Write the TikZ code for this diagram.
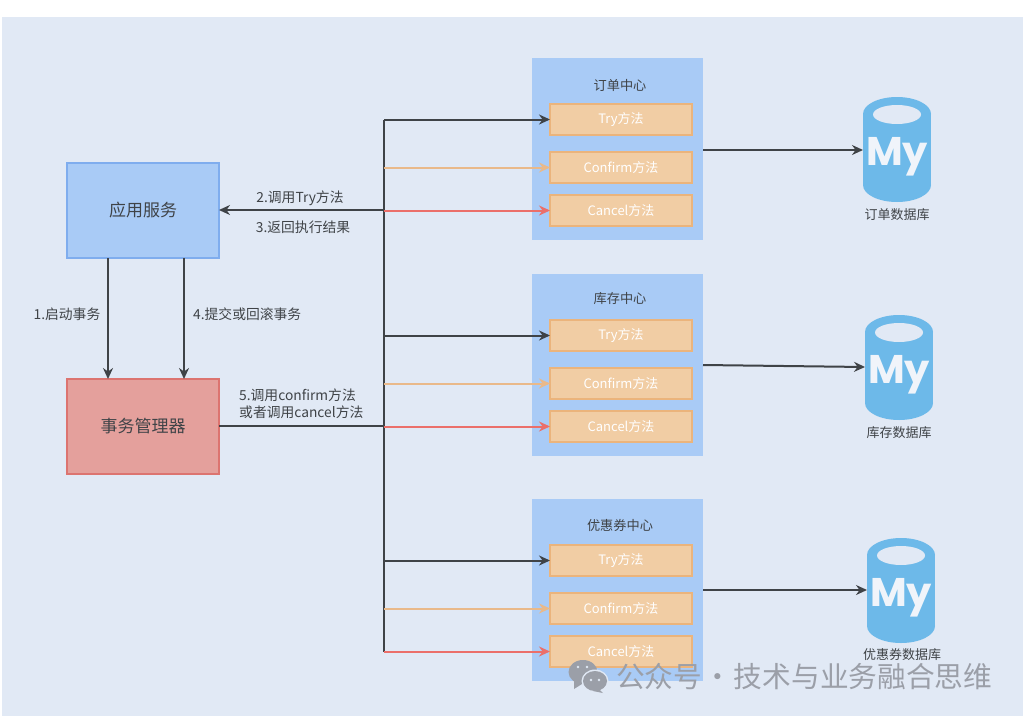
\documentclass[tikz,border=0pt]{standalone}
\usepackage{fontspec}
\setmainfont{Noto Sans CJK SC}
\newfontfamily\mylogo{Poppins}[UprightFont=* Bold]
\usetikzlibrary{arrows.meta,calc}
\definecolor{bgc}{HTML}{E1E9F5}
\definecolor{panelc}{HTML}{A9CBF6}
\definecolor{appc}{HTML}{A9CBF6}
\definecolor{appb}{HTML}{7FADEE}
\definecolor{mgrc}{HTML}{E4A09C}
\definecolor{mgrb}{HTML}{DC7470}
\definecolor{methc}{HTML}{F1CDA4}
\definecolor{methb}{HTML}{EBB47C}
\definecolor{dbc}{HTML}{6DB9E9}
\definecolor{dark}{HTML}{3F4347}
\definecolor{confc}{HTML}{E9B98A}
\definecolor{cancc}{HTML}{EB6F6A}
\definecolor{wm}{HTML}{9B9FA8}
\tikzset{
  x=1pt,y=-1pt,
  box/.style={minimum width=#1,inner sep=0pt,outer sep=0pt,anchor=north west},
  panel/.style={box=171pt,minimum height=182pt,fill=panelc},
  meth/.style={box=142pt,minimum height=31pt,fill=methc,draw=methb,line width=1.4pt,text=white,font=\fontsize{13}{15}\selectfont},
  bigbox/.style={box=152pt,minimum height=95pt,line width=1.2pt,font=\fontsize{17}{20}\selectfont,text=dark},
  lab/.style={inner sep=0pt,text=dark,font=\fontsize{13.8}{17}\selectfont},
  ttl/.style={inner sep=0pt,text=dark,font=\fontsize{13.2}{16}\selectfont},
  dbl/.style={inner sep=0pt,text=dark,font=\fontsize{13}{16}\selectfont},
  arr/.style={-{Stealth[length=11pt,width=10pt]},line width=2pt},
  blk/.style={arr,draw=dark},
  conf/.style={arr,draw=confc},
  canc/.style={arr,draw=cancc},
  blank/.style={line width=2pt,draw=dark},
  dbshape/.style={minimum width=68pt,minimum height=105pt,inner sep=0pt,outer sep=0pt,anchor=north west},
}
\newcommand{\dbcyl}[3]{%
  \fill[dbc] (#1+34,#2+17) ellipse[x radius=34,y radius=17];
  \fill[dbc] (#1+34,#2+88) ellipse[x radius=34,y radius=17];
  \fill[dbc] (#1,#2+17) rectangle (#1+68,#2+88);
  \fill[bgc] (#1+34,#2+17.5) ellipse[x radius=24,y radius=9.5];
  \node[dbshape] (#3) at (#1,#2) {};
  \node[text=bgc!50!white,font=\mylogo\fontsize{40}{40}\selectfont,inner sep=0pt] at (#1+34,#2+60) {My};
}
\begin{document}
\begin{tikzpicture}
\useasboundingbox (0,0) rectangle (1026,718);
\fill[white] (0,0) rectangle (1026,718);
\fill[bgc] (2,17) rectangle (1023,716);

% panels
\node[panel] (p1) at (532,58) {};
\node[panel] (p2) at (532,274) {};
\node[panel] (p3) at (532,499) {};
\node[ttl] (t1) at (620,85) {订单中心};
\node[ttl] (t2) at (620,299) {库存中心};
\node[ttl] (t3) at (620,525) {优惠券中心};

\node[meth] (try1) at (550,104) {\raisebox{-3pt}{Try方法}};
\node[meth] (con1) at (550,152) {\raisebox{-3pt}{Confirm方法}};
\node[meth] (can1) at (550,195) {\raisebox{-3pt}{Cancel方法}};
\node[meth] (try2) at (550,320) {\raisebox{-3pt}{Try方法}};
\node[meth] (con2) at (550,368) {\raisebox{-3pt}{Confirm方法}};
\node[meth] (can2) at (550,411) {\raisebox{-3pt}{Cancel方法}};
\node[meth] (try3) at (550,545) {\raisebox{-3pt}{Try方法}};
\node[meth] (con3) at (550,593) {\raisebox{-3pt}{Confirm方法}};
\node[meth] (can3) at (550,636) {\raisebox{-3pt}{Cancel方法}};

\node[bigbox,fill=appc,draw=appb] (app) at (67,163) {\raisebox{-3pt}{应用服务}};
\node[bigbox,fill=mgrc,draw=mgrb] (mgr) at (67,379) {\raisebox{-3pt}{事务管理器}};

% bus
\coordinate (bt) at (384,120);
\coordinate (bb) at (384,652);
\coordinate (bapp) at (384,210);
\coordinate (bmgr) at (384,426);
\draw[blank] (bt) -- (bb);
\draw[blk] (try1.west -| bt) -- (try1.west);
\draw[conf] (con1.west -| bt) -- (con1.west);
\draw[canc] (can1.west -| bt) -- (can1.west);
\draw[blk] (try2.west -| bt) -- (try2.west);
\draw[conf] (con2.west -| bt) -- (con2.west);
\draw[canc] (can2.west -| bt) -- (can2.west);
\draw[blk] (try3.west -| bt) -- (try3.west);
\draw[conf] (con3.west -| bt) -- (con3.west);
\draw[canc] (can3.west -| bt) -- (can3.west);
\draw[blk] (bapp) -- (app.east |- bapp);
\draw[blank] (mgr.east |- bmgr) -- (bmgr);
\coordinate (a1) at (108,258);
\coordinate (a2) at (184,258);
\draw[blk] (a1) -- (a1 |- mgr.north);
\draw[blk] (a2) -- (a2 |- mgr.north);

\node[lab] (l1) at (67,314) {1.启动事务};
\node[lab,anchor=west] (l4) at (193,314) {4.提交或回滚事务};
\node[lab] (l2) at (300,198) {2.调用Try方法};
\node[lab] (l3) at (303,227) {3.返回执行结果};
\node[lab,align=left,anchor=west] (l5) at (239,404) {5.调用confirm方法\\或者调用cancel方法};

% databases
\dbcyl{863}{97}{d1}
\dbcyl{865}{315}{d2}
\dbcyl{867}{538}{d3}
\node[dbl] (n1) at (897,214.5) {订单数据库};
\node[dbl] (n2) at (899,432.5) {库存数据库};
\node[dbl] (n3) at (902,655) {优惠券数据库};
\coordinate (s1) at (703,150);
\coordinate (s2) at (703,365);
\coordinate (s3) at (703,590);
\draw[blk] (s1) -- (d1.west |- s1);
\draw[blk] (s2) -- ($(d2.west |- s2)+(0,2)$);
\draw[blk] (s3) -- (d3.west |- s3);

% watermark
\fill[wm] (583,672) ellipse[x radius=14.5,y radius=12];
\fill[wm] (574,681) -- (574,689) -- (582,684) -- cycle;
\fill[bgc] (595,681) ellipse[x radius=13.5,y radius=11.5];
\fill[wm] (595,681) ellipse[x radius=12,y radius=10];
\fill[wm] (599,689) -- (603,693) -- (593,691) -- cycle;
\fill[bgc] (591,680) circle (1.3pt) (599,680) circle (1.3pt);
\fill[bgc] (578,667) circle (1.3pt) (587,667) circle (1.3pt);
\node[inner sep=0pt,anchor=west,text=wm,font=\fontsize{28.7}{30}\selectfont] (wmtext) at (616,677) {\spaceskip=1.5pt 公众号 · 技术与业务融合思维};
\end{tikzpicture}
\end{document}
